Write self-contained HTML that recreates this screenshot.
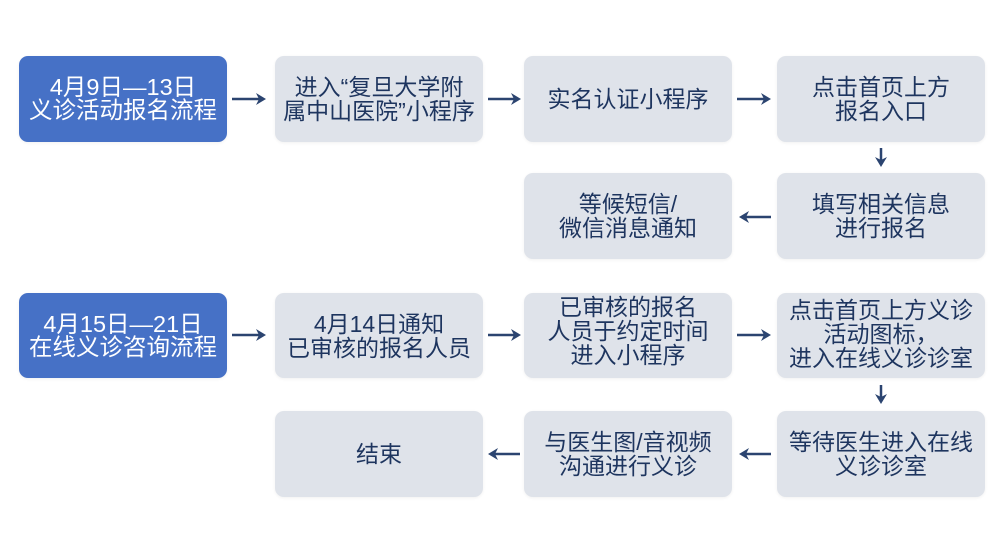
<!DOCTYPE html>
<html><head><meta charset="utf-8"><style>
html,body{margin:0;padding:0;background:#fff;}
body{width:1008px;height:552px;position:relative;overflow:hidden;font-family:"Liberation Sans","Noto Sans CJK SC",sans-serif;}
.b{position:absolute;width:208px;height:86px;border-radius:9px;background:#dfe3ea;color:#1e355f;font-size:23px;line-height:24px;display:flex;align-items:center;justify-content:center;text-align:center;box-shadow:0 1px 3px rgba(0,0,0,0.06);}
.blue{background:#4671c6;color:#fff;line-height:23px;font-size:23.5px;}
svg{position:absolute;left:0;top:0;}
</style></head><body>
<div class="b blue" style="left:19px;top:56px;"><div>4月9日—13日<br>义诊活动报名流程</div></div>
<div class="b" style="left:275px;top:56px;"><div>进入“复旦大学附<br>属中山医院”小程序</div></div>
<div class="b" style="left:524px;top:56px;"><div>实名认证小程序</div></div>
<div class="b" style="left:777px;top:56px;"><div>点击首页上方<br>报名入口</div></div>
<div class="b" style="left:524px;top:173px;"><div>等候短信/<br>微信消息通知</div></div>
<div class="b" style="left:777px;top:173px;"><div>填写相关信息<br>进行报名</div></div>

<div class="b blue" style="left:19px;top:293px;height:85px;"><div>4月15日—21日<br>在线义诊咨询流程</div></div>
<div class="b" style="left:275px;top:293px;height:85px;"><div>4月14日通知<br>已审核的报名人员</div></div>
<div class="b" style="left:524px;top:293px;height:85px;padding-bottom:10px;box-sizing:border-box;"><div>已审核的报名<br>人员于约定时间<br>进入小程序</div></div>
<div class="b" style="left:777px;top:293px;height:85px;padding-bottom:4px;box-sizing:border-box;"><div>点击首页上方义诊<br>活动图标，<br>进入在线义诊诊室</div></div>
<div class="b" style="left:275px;top:411px;"><div>结束</div></div>
<div class="b" style="left:524px;top:411px;"><div>与医生图/音视频<br>沟通进行义诊</div></div>
<div class="b" style="left:777px;top:411px;"><div>等待医生进入在线<br>义诊诊室</div></div>

<svg width="1008" height="552" viewBox="0 0 1008 552">
<g stroke="#2b4470" stroke-width="2.5" fill="none">
<line x1="232" y1="99" x2="260" y2="99"/>
<line x1="488" y1="99" x2="514" y2="99"/>
<line x1="737" y1="99" x2="765" y2="99"/>
<line x1="881" y1="148" x2="881" y2="161"/>
<line x1="771" y1="217" x2="745" y2="217"/>
<line x1="232" y1="335" x2="260" y2="335"/>
<line x1="488" y1="335" x2="514" y2="335"/>
<line x1="737" y1="335" x2="765" y2="335"/>
<line x1="881" y1="385" x2="881" y2="398"/>
<line x1="771" y1="454" x2="745" y2="454"/>
<line x1="520" y1="454" x2="494" y2="454"/>
</g>
<g fill="#2b4470">
<path d="M266 99 L256 93 L259 99 L256 105 Z"/>
<path d="M521 99 L511 93 L514 99 L511 105 Z"/>
<path d="M771 99 L761 93 L764 99 L761 105 Z"/>
<path d="M881 167 L875 157 L881 160 L887 157 Z"/>
<path d="M739 217 L749 211 L746 217 L749 223 Z"/>
<path d="M266 335 L256 329 L259 335 L256 341 Z"/>
<path d="M521 335 L511 329 L514 335 L511 341 Z"/>
<path d="M771 335 L761 329 L764 335 L761 341 Z"/>
<path d="M881 404 L875 394 L881 397 L887 394 Z"/>
<path d="M739 454 L749 448 L746 454 L749 460 Z"/>
<path d="M488 454 L498 448 L495 454 L498 460 Z"/>
</g>
</svg>
</body></html>
